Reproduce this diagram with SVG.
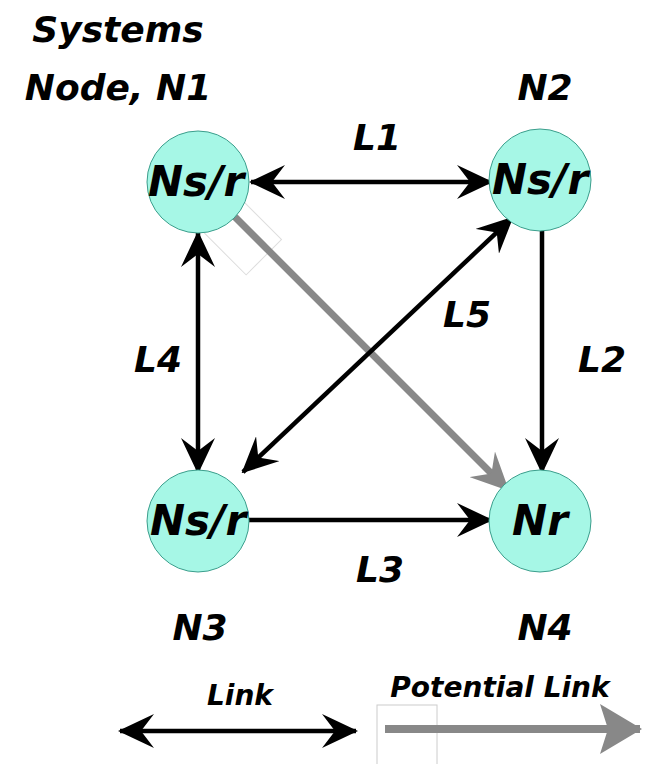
<svg xmlns="http://www.w3.org/2000/svg" width="645" height="764" viewBox="0 0 645 764">
<style>
.node{fill:#a6f7e6;stroke:#3b9e8c;stroke-width:1}
.t{font-family:"DejaVu Sans","Liberation Sans",sans-serif;font-style:italic;font-weight:bold;fill:#000}
.big{font-size:42px}
.lab{font-size:36px}
.leg{font-size:28px}
.blk{stroke:#000;stroke-width:4.5;fill:none}
.gry{stroke:#888;stroke-width:7;fill:none}
</style>
<defs>
<marker id="ahb" markerWidth="36" markerHeight="34" refX="34" refY="17" orient="auto-start-reverse" markerUnits="userSpaceOnUse" viewBox="0 0 36 34">
<path d="M0,0 L36,17 L0,34 L13,17 Z" fill="#000"/>
</marker>
<marker id="ahg" markerWidth="38" markerHeight="36" refX="35" refY="18" orient="auto" markerUnits="userSpaceOnUse" viewBox="0 0 38 36">
<path d="M0,0 L38,18 L0,36 L13,18 Z" fill="#888"/>
</marker>
<marker id="ahgl" markerWidth="48" markerHeight="50" refX="46" refY="25" orient="auto" markerUnits="userSpaceOnUse" viewBox="0 0 48 50">
<path d="M6,0 L48,25 L6,50 L14,25 Z" fill="#888"/>
</marker>
</defs>
<g id="decor">
<rect x="0" y="0" width="70" height="50" transform="translate(232,190) rotate(45)" fill="#fff" stroke="#ddd" stroke-width="1"/>
<rect x="377" y="705" width="60" height="60" fill="none" stroke="#ccc" stroke-width="1"/>
</g>
<g id="connectors">
<line class="gry" x1="232" y1="214" x2="507" y2="489" marker-end="url(#ahg)"/>
<line class="blk" x1="251" y1="182" x2="491" y2="182" marker-start="url(#ahb)" marker-end="url(#ahb)"/>
<line class="blk" x1="198" y1="233" x2="198" y2="472" marker-start="url(#ahb)" marker-end="url(#ahb)"/>
<line class="blk" x1="542" y1="230" x2="542" y2="472" marker-end="url(#ahb)"/>
<line class="blk" x1="249" y1="520" x2="491" y2="520" marker-end="url(#ahb)"/>
<line class="blk" x1="512" y1="218" x2="243" y2="472" marker-start="url(#ahb)" marker-end="url(#ahb)"/>
</g>
<g id="N1">
<circle class="node" cx="198" cy="182" r="51"/>
<text class="t big" x="196" y="196" text-anchor="middle">Ns/r</text>
</g>
<g id="N2">
<circle class="node" cx="540" cy="180" r="51"/>
<text class="t big" x="540" y="194" text-anchor="middle">Ns/r</text>
</g>
<g id="N3">
<circle class="node" cx="198" cy="521" r="51"/>
<text class="t big" x="198" y="535" text-anchor="middle">Ns/r</text>
</g>
<g id="N4">
<circle class="node" cx="540" cy="521" r="51"/>
<text class="t big" x="540" y="535" text-anchor="middle">Nr</text>
</g>
<g id="labels">
<text class="t lab" x="118" y="42" text-anchor="middle">Systems</text>
<text class="t lab" x="118" y="100" text-anchor="middle">Node, N1</text>
<text class="t lab" x="545" y="100" text-anchor="middle">N2</text>
<text class="t lab" x="200" y="640" text-anchor="middle">N3</text>
<text class="t lab" x="545" y="640" text-anchor="middle">N4</text>
<text class="t lab" x="377" y="150" text-anchor="middle">L1</text>
<text class="t lab" x="602" y="372" text-anchor="middle">L2</text>
<text class="t lab" x="380" y="582" text-anchor="middle">L3</text>
<text class="t lab" x="158" y="372" text-anchor="middle">L4</text>
<text class="t lab" x="467" y="327" text-anchor="middle">L5</text>
</g>
<g id="legend">
<line class="blk" x1="120" y1="731" x2="356" y2="731" marker-start="url(#ahb)" marker-end="url(#ahb)"/>
<text class="t leg" x="240" y="705" text-anchor="middle">Link</text>
<line x1="385" y1="729" x2="640" y2="729" stroke="#888" stroke-width="8" marker-end="url(#ahgl)"/>
<text class="t leg" x="500" y="697" text-anchor="middle">Potential Link</text>
</g>
</svg>
